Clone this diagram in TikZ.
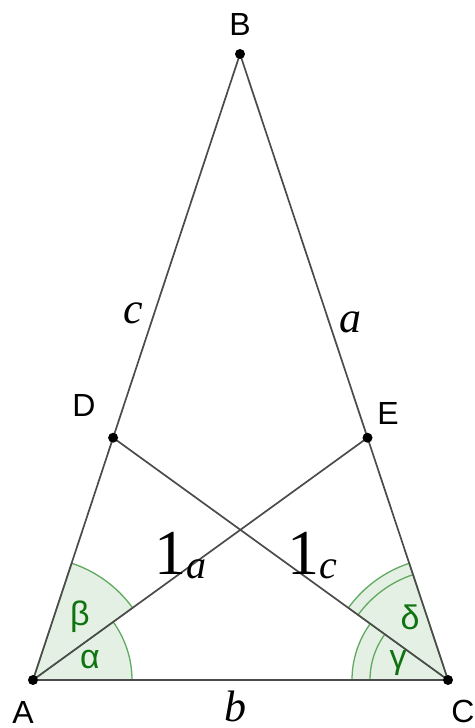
\documentclass[tikz,border=0pt]{standalone}
\usepackage{fontspec}
\setmainfont{Liberation Serif}
\newfontfamily\ptfont{Liberation Sans}
\usepackage{xcolor}
\definecolor{seggray}{RGB}{75, 75, 75}
\definecolor{angedge}{RGB}{95, 170, 95}
\definecolor{angfill}{RGB}{229, 240, 229}
\definecolor{angtext}{RGB}{15, 115, 15}
\usetikzlibrary{calc}

\begin{document}
\begin{tikzpicture}[x=0.5pt, y=0.5pt,
        seg/.style={draw=seggray, line width=0.85pt},
        sector/.style={draw=angedge, fill=angfill, line width=0.65pt},
        arcline/.style={draw=angedge, line width=0.65pt},
        dot/.style={circle, fill=black, inner sep=0pt, minimum size=5pt},
        ptlabel/.style={font=\ptfont\fontsize{16}{16}\selectfont},
        sidelabel/.style={font=\fontsize{22}{22}\selectfont\itshape, inner sep=0pt},
        bislabel/.style={font=\fontsize{32}{32}\selectfont, inner sep=0pt, anchor=base west},
        anglabel/.style={font=\ptfont\fontsize{17}{17}\selectfont, text=angtext}]
    \useasboundingbox (0,0) rectangle (475,728);

    % Eckpunkte
    \coordinate (A) at (33,48);
    \coordinate (C) at (448,48);
    \coordinate (B) at (240,674);
    \coordinate (E) at ($(C)!0.387!(B)$);
    \coordinate (D) at ($(A)!0.387!(B)$);

    % Winkel bei A
    \path[sector] (A) -- ++(71.7:123) arc[start angle=71.7, end angle=35.9, radius=123] -- cycle;
    \path[sector] (A) -- ++(0:99) arc[start angle=0, end angle=35.9, radius=99] -- cycle;
    % Winkel bei C
    \path[sector] (C) -- ++(108.3:123) arc[start angle=108.3, end angle=144.1, radius=123] -- cycle;
    \path[arcline] (C) ++(108.3:111) arc[start angle=108.3, end angle=144.1, radius=111];
    \path[sector] (C) -- ++(144.1:96) arc[start angle=144.1, end angle=180, radius=96] -- cycle;
    \path[arcline] (C) ++(144.1:78) arc[start angle=144.1, end angle=180, radius=78];

    % Seiten und Winkelhalbierende
    \path[seg] (A) -- (B);
    \path[seg] (B) -- (C);
    \path[seg] (A) -- (C);
    \path[seg] (A) -- (E);
    \path[seg] (C) -- (D);

    % Punkte
    \foreach \p in {A,B,C,D,E}
        \node[dot] at (\p) {};

    % Beschriftungen
    \node[ptlabel] (lA) at (23,16) {A};
    \node[ptlabel] (lB) at (240,703) {B};
    \node[ptlabel] (lC) at (463,17) {C};
    \node[ptlabel] (lD) at (84,323) {D};
    \node[ptlabel] (lE) at (388,315) {E};

    \node[sidelabel] (lc) at (133,415) {c};
    \node[sidelabel] (la) at (350,406) {a};
    \node[sidelabel] (lb) at (235,22) {b};

    \node[bislabel] (lwa) at (154,153) {1\raisebox{-2pt}{\fontsize{20}{20}\selectfont\itshape a}};
    \node[bislabel] (lwc) at (287,153) {1\raisebox{-2pt}{\fontsize{20}{20}\selectfont\itshape c}};

    \node[anglabel] (lal) at (90,68) {α};
    \node[anglabel] (lbe) at (80,111) {β};
    \node[anglabel] (lga) at (398,65) {γ};
    \node[anglabel] (lde) at (410,111) {δ};
\end{tikzpicture}
\end{document}
